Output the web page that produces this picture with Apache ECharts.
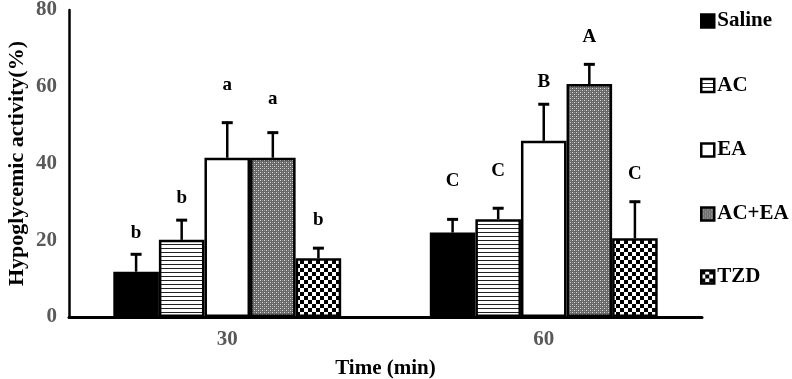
<!DOCTYPE html>
<html><head><meta charset="utf-8">
<script src="https://cdn.jsdelivr.net/npm/echarts@6/dist/echarts.min.js"></script>
<style>html,body{margin:0;padding:0;background:#fff}#c{width:792px;height:379px}</style>
</head><body><div id="c"></div>
<script>
const categories = ['30', '60'];
const seriesNames = ['Saline', 'AC', 'EA', 'AC+EA', 'TZD'];
const saline = [11.8, 22.0];
const ac = [20.1, 25.5];
const ea = [41.5, 45.9];
const acea = [41.5, 60.7];
const tzd = [15.3, 20.5];
const salineErr = [4.8, 3.7];
const acErr = [5.4, 3.1];
const eaErr = [9.4, 9.8];
const aceaErr = [6.8, 5.4];
const tzdErr = [2.9, 9.8];
const salineSig = ['b', 'C'];
const acSig = ['b', 'C'];
const eaSig = ['a', 'B'];
const aceaSig = ['a', 'A'];
const tzdSig = ['b', 'C'];
// heights (in % units) at which the significance letters sit
const salineSigY = [21.9, 35.3];
const acSigY = [31.0, 37.9];
const eaSigY = [60.5, 61.3];
const aceaSigY = [56.8, 73.0];
const tzdSigY = [25.3, 37.3];
const yTicks = [0, 20, 40, 60, 80];

const means = [saline, ac, ea, acea, tzd];
const errs = [salineErr, acErr, eaErr, aceaErr, tzdErr];
const sigs = [salineSig, acSig, eaSig, aceaSig, tzdSig];
const sigYs = [salineSigY, acSigY, eaSigY, aceaSigY, tzdSigY];

function pattern(w, h, draw) {
  const c = document.createElement('canvas');
  c.width = w; c.height = h;
  const g = c.getContext('2d');
  draw(g);
  return { image: c, repeat: 'repeat' };
}
const stripes = pattern(4, 4, g => { g.fillStyle = '#fff'; g.fillRect(0,0,4,4); g.fillStyle = '#222'; g.fillRect(0,0,4,1); });
const grayDots = pattern(4, 4, g => {
  g.fillStyle = '#666'; g.fillRect(0,0,4,4);
  g.fillStyle = '#d8d8d8'; g.fillRect(0,0,1,1); g.fillRect(2,2,1,1);
  g.fillStyle = '#9a9a9a'; g.fillRect(2,0,1,1); g.fillRect(0,2,1,1);
});
const checker = pattern(8, 8, g => { g.fillStyle = '#fff'; g.fillRect(0,0,8,8); g.fillStyle = '#000'; g.fillRect(0,0,4,4); g.fillRect(4,4,4,4); });
const fills = ['#000', stripes, '#fff', grayDots, checker];

const font = 'Liberation Serif';
const GAP = 0.28;

const barSeries = seriesNames.map((n, i) => ({
  name: n, type: 'bar', data: means[i], barGap: '0%', barCategoryGap: (GAP*100) + '%',
  itemStyle: { color: fills[i], borderColor: '#000', borderWidth: 2.5 },
  emphasis: { disabled: true }, animation: false
}));

const errData = [];
for (let s = 0; s < 5; s++) for (let c = 0; c < categories.length; c++) {
  errData.push([c, s, means[s][c], errs[s][c], sigYs[s][c]]);
}

const errSeries = {
  type: 'custom', name: 'err', data: errData, encode: { x: 0, y: 2 }, z: 5, silent: true, animation: false,
  renderItem(params, api) {
    const ci = api.value(0), si = api.value(1), m = api.value(2), sd = api.value(3), ly = api.value(4);
    const band = api.size([1, 0])[0];
    const bw = band * (1 - GAP) / 5;
    const base = api.coord([ci, 0]);
    const x = base[0] + (si - 2) * bw;
    const yTop = api.coord([ci, m])[1];
    const yErr = api.coord([ci, m + sd])[1];
    const yL = api.coord([ci, ly])[1];
    return { type: 'group', children: [
      { type: 'line', shape: { x1: x, y1: yTop, x2: x, y2: yErr }, style: { stroke: '#000', lineWidth: 2.5 } },
      { type: 'line', shape: { x1: x - 5.5, y1: yErr + 1, x2: x + 5.5, y2: yErr + 1 }, style: { stroke: '#000', lineWidth: 3 } },
      { type: 'text', x: x, y: yL, style: { text: sigs[si][ci], fontFamily: font, fontWeight: 'bold', fontSize: 19, fill: '#000', align: 'center', verticalAlign: 'middle' } }
    ]};
  }
};

const legendCenters = [21, 85.5, 150, 214, 277];
const legends = seriesNames.map((n, i) => ({
  data: [n], left: 700, top: legendCenters[i] - 11, padding: 0,
  itemWidth: 13, itemHeight: 13, itemGap: 3, icon: 'rect', selectedMode: false,
  itemStyle: { borderColor: '#000', borderWidth: 2.5 },
  textStyle: { fontFamily: font, fontWeight: 'bold', fontSize: 21, color: '#000', lineHeight: 22, padding: [0,0,0,-2] }
}));

const chart = echarts.init(document.getElementById('c'), null, { renderer: 'canvas' });
chart.setOption({
  animation: false,
  backgroundColor: '#fff',
  grid: { left: 69, right: 90, top: 10, bottom: 62, containLabel: false, outerBoundsMode: 'none' },
  legend: legends,
  xAxis: {
    type: 'category', data: categories,
    axisLine: { lineStyle: { color: '#000', width: 3 } },
    axisTick: { show: false },
    axisLabel: { fontFamily: font, fontWeight: 'bold', fontSize: 21, color: '#595959', margin: 12 },
    name: 'Time (min)', nameLocation: 'middle', nameGap: 41,
    nameTextStyle: { fontFamily: font, fontWeight: 'bold', fontSize: 21, color: '#000' }
  },
  yAxis: {
    type: 'value', min: yTicks[0], max: yTicks[yTicks.length - 1], interval: yTicks[1] - yTicks[0],
    axisLine: { show: true, lineStyle: { color: '#000', width: 2.5 } },
    axisTick: { show: false },
    splitLine: { show: false },
    axisLabel: { fontFamily: font, fontWeight: 'bold', fontSize: 21, color: '#595959', margin: 12 },
    name: 'Hypoglycemic activity(%)', nameLocation: 'middle', nameGap: 41, nameRotate: 90, nameMoveOverlap: false,
    nameTextStyle: { fontFamily: font, fontWeight: 'bold', fontSize: 22, color: '#000' }
  },
  series: [...barSeries, errSeries]
});
</script></body></html>
